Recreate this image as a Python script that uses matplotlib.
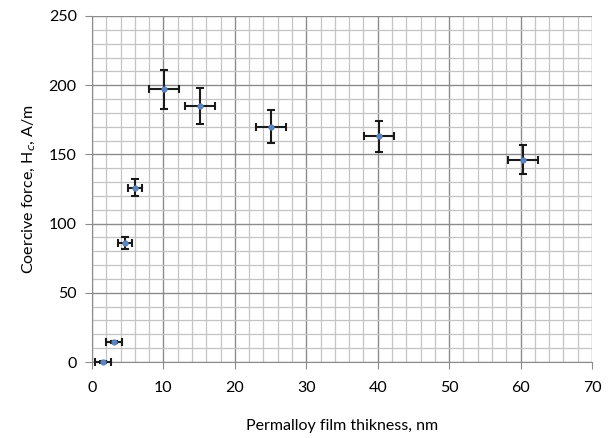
import numpy as np
import matplotlib.pyplot as plt
from matplotlib.ticker import MultipleLocator

plt.rcParams['font.family'] = ['Lato', 'DejaVu Sans']

# Permalloy film thickness (nm) vs coercive force (A/m)
thickness = [1.5, 3.1, 4.6, 6.0, 10.1, 15.1, 25.1, 40.2, 60.3]
coercive = [0, 14.5, 86, 126, 197, 185, 170, 163, 146]
thick_err = [1.1, 1.1, 1.0, 1.0, 2.1, 2.1, 2.1, 2.1, 2.1]
coerc_err = [1, 1, 4.5, 6, 14, 12.7, 12, 11, 10.5]

fig = plt.figure(figsize=(6.11, 4.38), dpi=100)
ax = fig.add_axes([0.1506, 0.1735, 0.8184, 0.79])

ax.errorbar(thickness, coercive, xerr=thick_err, yerr=coerc_err,
            fmt='o', color='#5b84c0', markersize=3.5,
            ecolor='#1a1a1a', elinewidth=1.5, capsize=3, capthick=1.5,
            zorder=3, clip_on=False)

ax.set_xlim(0, 70)
ax.set_ylim(0, 250)
ax.xaxis.set_major_locator(MultipleLocator(10))
ax.xaxis.set_minor_locator(MultipleLocator(2))
ax.yaxis.set_major_locator(MultipleLocator(50))
ax.yaxis.set_minor_locator(MultipleLocator(10))
ax.grid(True, which='major', color='#8c8c8c', linewidth=1.0)
ax.grid(True, which='minor', color='#c4c4c4', linewidth=0.9)
ax.set_axisbelow(True)

for s in ['top', 'right']:
    ax.spines[s].set_visible(False)
for s in ['left', 'bottom']:
    ax.spines[s].set_color('#8c8c8c')
ax.tick_params(which='major', length=5, color='#8c8c8c', labelsize=11.5, pad=6)
ax.tick_params(which='minor', length=0)
ax.tick_params(axis='x', pad=9)

ax.set_xlabel('Permalloy film thikness, nm', fontsize=11.5, labelpad=17)
ax.set_ylabel('Coercive force, H$_{\\mathit{c}}$, A/m', fontsize=11.5, labelpad=8)

fig.savefig('out.png', dpi=100)
